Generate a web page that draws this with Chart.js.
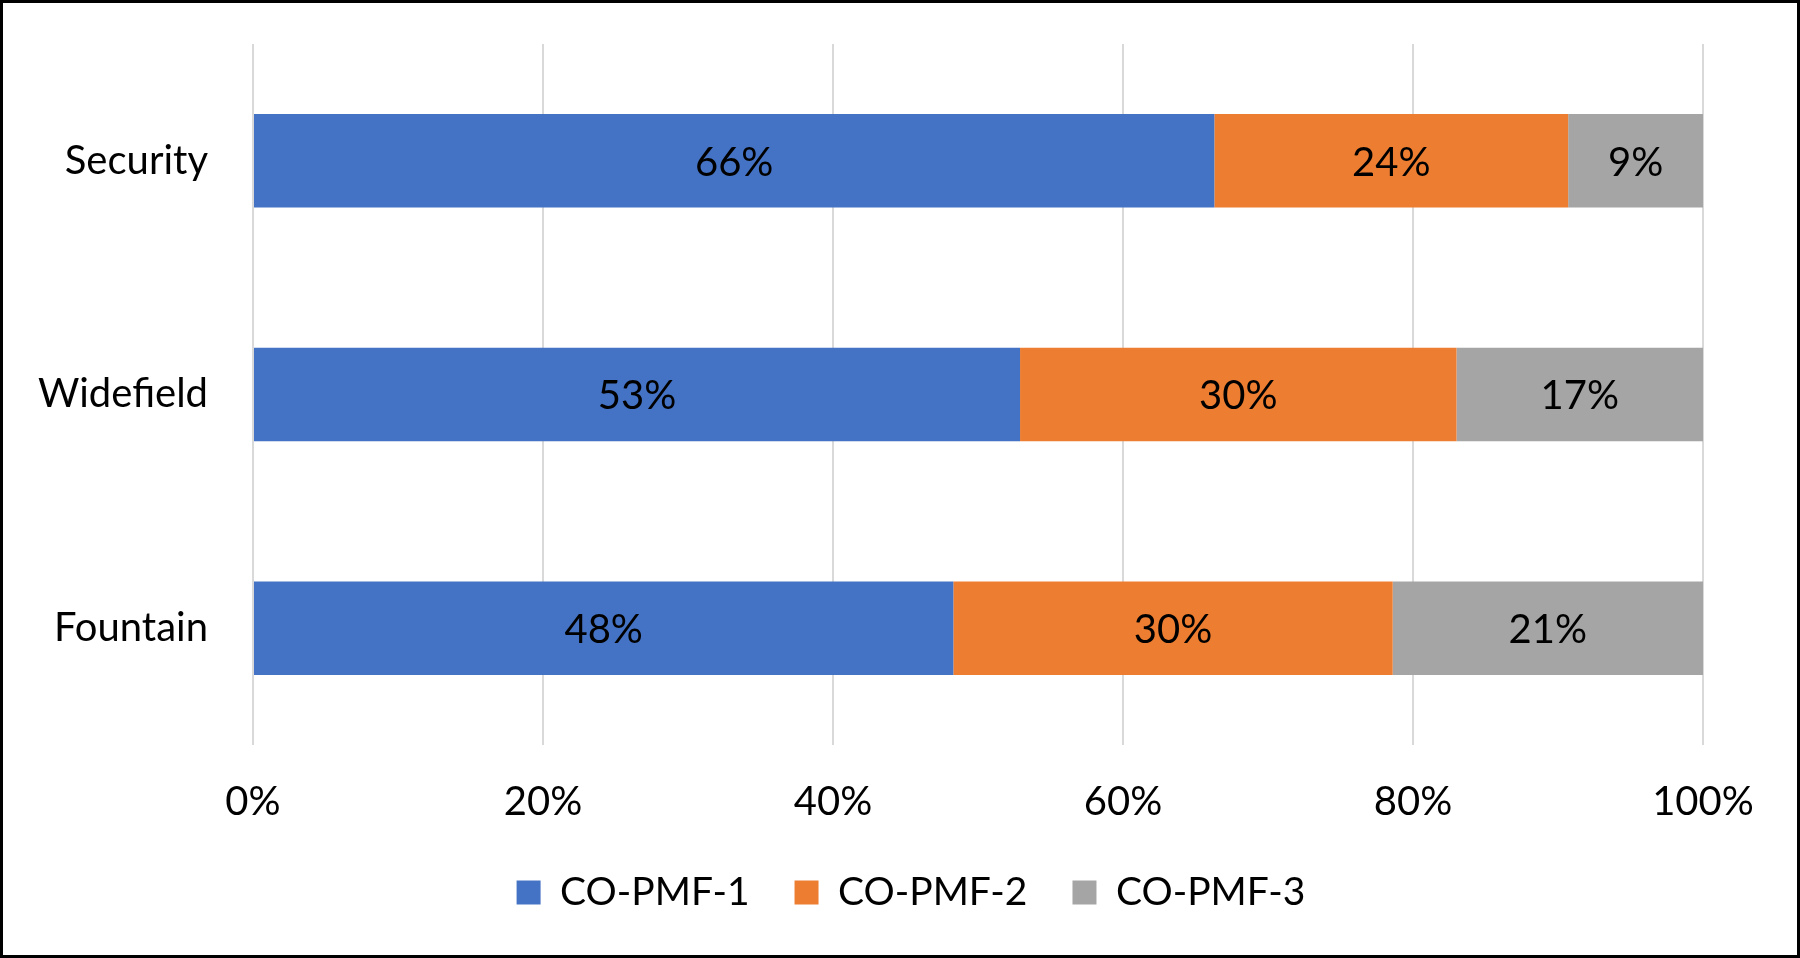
<!DOCTYPE html>
<html>
<head>
<meta charset="utf-8">
<script src="https://cdn.jsdelivr.net/npm/chart.js@4.4.1/dist/chart.umd.min.js"></script>
<style>
  body { margin: 0; background: #fff; }
  #frame { width: 1800px; height: 958px; box-sizing: border-box; border: 3px solid #000; position: relative; }
  #wrap { position: absolute; left: 0; top: 0; width: 1794px; height: 952px; }
</style>
</head>
<body>
<div id="frame"><div id="wrap"><canvas id="myChart"></canvas></div></div>
<script>
const categorias = ['Security', 'Widefield', 'Fountain'];
const series = ['CO-PMF-1', 'CO-PMF-2', 'CO-PMF-3'];
const pmf1 = [66.3, 52.9, 48.3];
const pmf2 = [24.4, 30.1, 30.3];
const pmf3 = [9.3, 17.0, 21.4];
const colores = ['#4472C4', '#ED7D31', '#A5A5A5'];
const ticksX = [0, 20, 40, 60, 80, 100];

const fuente = 'Lato, "Open Sans", sans-serif';

// etiquetas de porcentaje dentro de cada segmento
const etiquetas = {
    id: 'etiquetas',
    afterDatasetsDraw(chart) {
        const ctx = chart.ctx;
        ctx.save();
        ctx.font = '40px ' + fuente;
        ctx.fillStyle = '#000';
        ctx.textAlign = 'center';
        ctx.textBaseline = 'middle';
        chart.data.datasets.forEach((ds, i) => {
            chart.getDatasetMeta(i).data.forEach((bar, j) => {
                const x = (bar.x + bar.base) / 2;
                ctx.fillText(Math.round(ds.data[j]) + '%', x, bar.y + 2);
            });
        });
        ctx.restore();
    }
};

// la leyenda va un poco corrida a la derecha, como en el original
const moverLeyenda = {
    id: 'moverLeyenda',
    afterLayout(chart) {
        chart.legend.left += 58;
        chart.legend.right += 58;
    }
};

const ctx = document.getElementById('myChart');

new Chart(ctx, {
    type: 'bar',
    data: {
        labels: categorias,
        datasets: [
            { label: series[0], data: pmf1, backgroundColor: colores[0] },
            { label: series[1], data: pmf2, backgroundColor: colores[1] },
            { label: series[2], data: pmf3, backgroundColor: colores[2] }
        ]
    },
    plugins: [etiquetas, moverLeyenda],
    options: {
        indexAxis: 'y',
        responsive: true,
        maintainAspectRatio: false,
        animation: false,
        datasets: { bar: { categoryPercentage: 1, barPercentage: 0.4 } },
        layout: { padding: { top: 41, right: 94, left: 0, bottom: 33 } },
        scales: {
            x: {
                stacked: true,
                min: 0,
                max: 100,
                afterBuildTicks: s => { s.ticks = ticksX.map(v => ({ value: v })); },
                afterFit: s => { s.height = 83; },
                ticks: {
                    callback: v => v + '%',
                    color: '#000',
                    padding: 33,
                    font: { family: fuente, size: 40 }
                },
                grid: { color: '#D9D9D9', lineWidth: 2, drawTicks: false },
                border: { display: false }
            },
            y: {
                stacked: true,
                afterFit: s => {
                    s.width = 250;
                    s.paddingTop = 0;
                    s.paddingBottom = 0;
                },
                ticks: {
                    color: '#000',
                    padding: 37,
                    font: { family: fuente, size: 40 }
                },
                grid: { display: false },
                border: { display: false }
            }
        },
        plugins: {
            legend: {
                position: 'bottom',
                labels: {
                    color: '#000',
                    boxWidth: 24,
                    boxHeight: 24,
                    padding: 45,
                    font: { family: fuente, size: 39 }
                }
            },
            tooltip: { enabled: false }
        }
    }
});
</script>
</body>
</html>
